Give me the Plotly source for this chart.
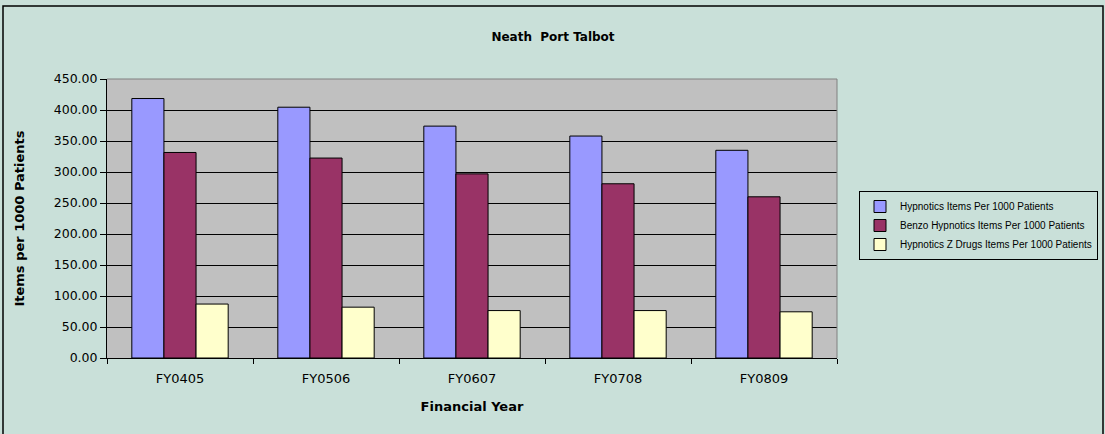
import plotly.graph_objects as go

years = ["FY0405", "FY0506", "FY0607", "FY0708", "FY0809"]
hypnotics = [418.5, 404.5, 374.0, 358.0, 335.0]
benzo = [331.5, 322.5, 297.0, 281.0, 260.0]
zdrugs = [87.0, 82.0, 76.5, 76.5, 74.5]
names = ["Hypnotics Items Per 1000 Patients",
         "Benzo Hypnotics Items Per 1000 Patients",
         "Hypnotics Z Drugs Items Per 1000 Patients"]
colors = ["#9999FF", "#993366", "#FFFFCC"]
yticks = [0, 50, 100, 150, 200, 250, 300, 350, 400, 450]

W, H = 1105, 434
L, R, T, B = 107, 837, 79, 358

fig = go.Figure()
for vals, nm, c in zip([hypnotics, benzo, zdrugs], names, colors):
    fig.add_trace(go.Bar(x=years, y=vals, name=nm, marker_color=c,
                         marker_line_color="#000000", marker_line_width=1))

def px2x(p):
    return (p - L) / (R - L)

def py2y(p):
    return (B - p) / (B - T)

fig.update_layout(
    width=W, height=H,
    margin=dict(l=L, r=W - R, t=T, b=H - B, pad=0, autoexpand=False),
    paper_bgcolor="#C9E0D9",
    plot_bgcolor="#C0C0C0",
    barmode="group", bargap=0.34, bargroupgap=0,
    font=dict(family="DejaVu Sans, Verdana, sans-serif", color="#000000", size=12),
    title=dict(text="<b>Neath  Port Talbot</b>", x=553 / W, xref="container", xanchor="center",
               y=1 - 37 / H, yanchor="middle", font=dict(size=12)),
    showlegend=True,
    legend=dict(x=px2x(859), y=py2y(191), xanchor="left", yanchor="top",
                bgcolor="#C9E0D9", bordercolor="#000000", borderwidth=1,
                font=dict(size=10, family="Liberation Sans, Arial, sans-serif"),
                tracegroupgap=0, itemwidth=30),
    xaxis=dict(showline=True, linecolor="#000000", linewidth=1,
               ticks="outside", ticklen=5, tickcolor="#000000", tickson="boundaries",
               tickfont=dict(size=13), ticklabelstandoff=8,
               title=dict(text="<b>Financial Year</b>", font=dict(size=13), standoff=17),
               mirror=False),
    yaxis=dict(range=[0, 450], tickvals=yticks, tickformat=".2f",
               showline=True, linecolor="#000000", linewidth=1,
               ticks="outside", ticklen=6, tickcolor="#000000",
               showgrid=True, gridcolor="#000000", gridwidth=1,
               zeroline=False, tickfont=dict(size=12.5),
               title=dict(text="<b>Items per 1000 Patients</b>", font=dict(size=13), standoff=26)),
    shapes=[
        dict(type="rect", xref="paper", yref="paper",
             x0=px2x(3), x1=px2x(1103), y0=py2y(440), y1=py2y(6),
             line=dict(color="#000000", width=1.5), fillcolor="rgba(0,0,0,0)", layer="below"),
        dict(type="line", xref="paper", yref="paper", x0=0, x1=1, y0=1, y1=1,
             line=dict(color="#808080", width=1)),
        dict(type="line", xref="paper", yref="paper", x0=1, x1=1, y0=0, y1=1,
             line=dict(color="#808080", width=1)),
    ],
)

fig.write_html("out.html", config={"displayModeBar": False},
               post_script="document.body.style.margin='0';document.body.style.overflow='hidden';")
